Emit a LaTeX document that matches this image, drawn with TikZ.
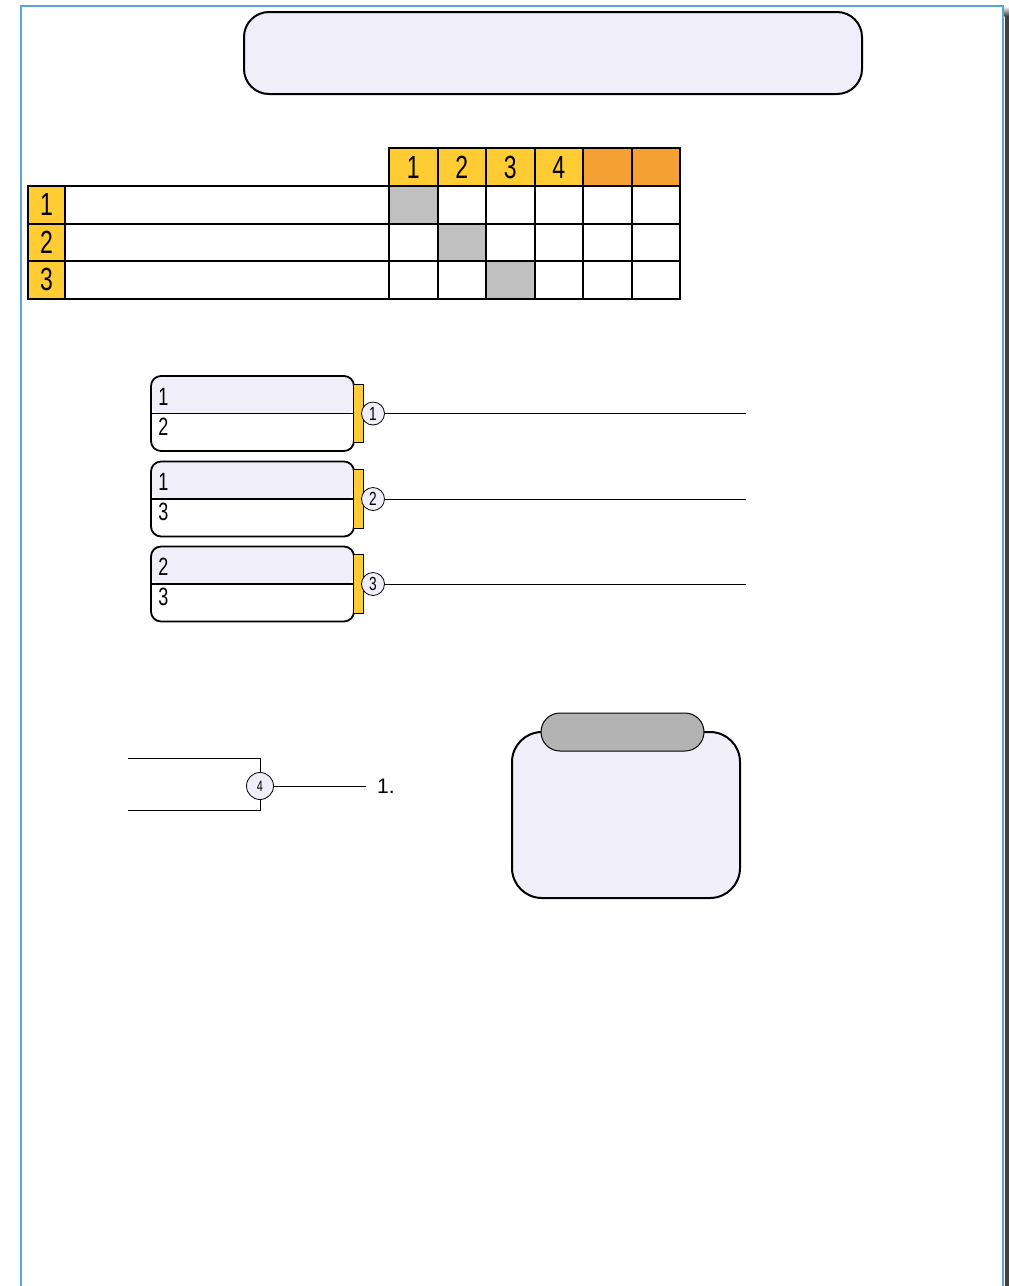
\documentclass[tikz,border=0pt]{standalone}
\usepackage{fontspec}
\setmainfont{Liberation Sans}
\newfontfamily\narrowfont[FakeStretch=0.72]{Liberation Sans}
\usetikzlibrary{positioning,calc}
\definecolor{lavender}{HTML}{F0EEF8}
\definecolor{headyellow}{HTML}{FFCC33}
\definecolor{headorange}{HTML}{F4A033}
\definecolor{diaggray}{HTML}{C0C0C0}
\definecolor{pillgray}{HTML}{B3B3B3}
\definecolor{frameblue}{HTML}{5AA5D8}
\definecolor{shadowgray}{HTML}{404040}

\tikzset{
  cell/.style={draw, line width=2pt, minimum width=48.5pt, minimum height=37.5pt,
    inner sep=0pt, font=\narrowfont\fontsize{32}{32}\selectfont},
  stackbox/.style={draw, line width=1.8pt, rounded corners=10pt, fill=white,
    minimum width=203pt, minimum height=75pt, inner sep=0pt,
    path picture={\fill[lavender] (path picture bounding box.north west)
      rectangle (path picture bounding box.east);}},
  boxnum/.style={inner sep=0pt, font=\narrowfont\fontsize{25}{25}\selectfont},
  bracket/.style={fill=headyellow, minimum width=9pt, minimum height=58pt, inner sep=0pt},
  marker/.style={circle, draw, fill=lavender, line width=0.8pt, minimum size=23pt,
    inner sep=0pt, font=\narrowfont\fontsize{19}{19}\selectfont},
  connector/.style={line width=1pt}
}

\begin{document}
\begin{tikzpicture}[x=1pt,y=-1pt]
  \useasboundingbox (0,0) rectangle (1009,1286);
  \fill[white] (0,0) rectangle (1009,1286);

  % page frame and shadow
  \fill[shadowgray] (1004.5,16) rectangle (1009,1286);
  \shade[top color=white, bottom color=shadowgray] (1004.5,6) rectangle (1009,16);
  \draw[frameblue, line width=1.2pt] (21,1286) -- (21,6) -- (1003,6) -- (1003,1286);

  % title
  \node[draw, line width=2pt, rounded corners=25pt, fill=lavender,
    minimum width=618pt, minimum height=82pt] (title) at (553,53) {};

  % table header
  \foreach \c [count=\i] in {1,2,3,4}
    \node[cell, fill=headyellow, minimum height=38pt] (h\i) at ({389+48.5*(\i-0.5)},167) {\c};
  \foreach \i in {5,6}
    \node[cell, fill=headorange, minimum height=38pt] (h\i) at ({389+48.5*(\i-0.5)},167) {};

  % table rows
  \foreach \r in {1,2,3} {
    \node[cell, fill=headyellow, minimum width=37pt] (lab\r) at (46.5,{186+37.5*(\r-0.5)}) {\r};
    \node[cell, minimum width=324pt] (name\r) at (227,{186+37.5*(\r-0.5)}) {};
    \foreach \k in {1,...,6} {
      \ifnum\k=\r \def\cellfill{diaggray}\else\def\cellfill{white}\fi
      \node[cell, fill=\cellfill] (c\r-\k) at ({389+48.5*(\k-0.5)},{186+37.5*(\r-0.5)}) {};
    }
  }

  % pairs
  \foreach \i/\y/\a/\b in {1/413.5/1/2, 2/499/1/3, 3/584/2/3} {
    \node[stackbox] (box\i) at (252.5,\y) {};
    \draw[line width=1.8pt] (box\i.west) -- (box\i.east);
    \node[boxnum, anchor=west] (box\i-top) at ($(box\i.west)+(8,-17)$) {\a};
    \node[boxnum, anchor=west] (box\i-bot) at ($(box\i.west)+(8,13)$) {\b};
    \node[bracket] (br\i) at (358.5,\y) {};
    \draw[line width=1pt] (br\i.north west) -- (br\i.north east)
      -- (br\i.south east) -- (br\i.south west);
    \node[marker] (m\i) at (373,\y) {\i};
    \coordinate (end\i) at (746,\y);
    \draw[connector] (m\i) -- (end\i);
  }

  % merge
  \node[marker, minimum size=27pt, font=\narrowfont\fontsize{15}{15}\selectfont] (m4) at (260,786) {4};
  \coordinate (inA) at (128,758);
  \coordinate (inB) at (128,810);
  \draw[connector] (inA) -| (m4.north);
  \draw[connector] (inB) -| (m4.south);
  \node[anchor=west, inner ysep=0pt, inner xsep=11pt, font=\fontsize{21}{21}\selectfont] (res) at (366,786) {1.};
  \draw[connector] (m4) -- (res.west);

  % note
  \node[draw, line width=2pt, rounded corners=30pt, fill=lavender,
    minimum width=228pt, minimum height=166pt] (note) at (626,815) {};
  \node[draw, line width=1pt, rounded corners=19pt, fill=pillgray,
    minimum width=163pt, minimum height=38pt] (notetab) at (622.5,732) {};
\end{tikzpicture}
\end{document}
